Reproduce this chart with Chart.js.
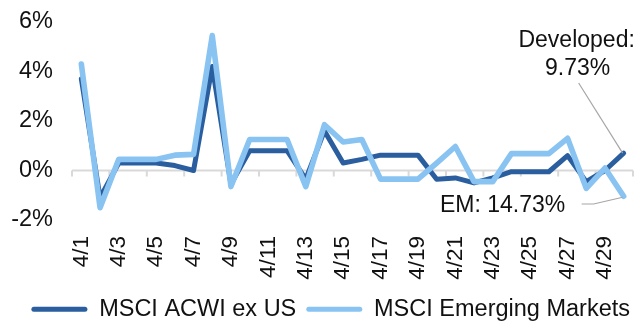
<!DOCTYPE html>
<html>
<head>
<meta charset="utf-8">
<script src="https://cdn.jsdelivr.net/npm/chart.js@4/dist/chart.umd.min.js"></script>
<style>
  html, body { margin: 0; padding: 0; background: #fff; }
  #wrap { width: 640px; height: 328px; }
</style>
</head>
<body>
<div id="wrap"><canvas id="chart" width="640" height="328"></canvas></div>
<script>
// Daily returns in April (%)
const dates = [
  '4/1','4/2','4/3','4/4','4/5','4/6','4/7','4/8','4/9','4/10',
  '4/11','4/12','4/13','4/14','4/15','4/16','4/17','4/18','4/19','4/20',
  '4/21','4/22','4/23','4/24','4/25','4/26','4/27','4/28','4/29','4/30'
];
const acwiExUs = [
  3.7, -1.1, 0.3, 0.3, 0.3, 0.2, 0.0, 4.2, -0.55, 0.8,
  0.8, 0.8, -0.35, 1.6, 0.3, 0.45, 0.62, 0.62, 0.62, -0.35,
  -0.3, -0.5, -0.3, -0.05, -0.05, -0.05, 0.6, -0.45, 0.0, 0.7
];
const emergingMarkets = [
  4.3, -1.5, 0.45, 0.45, 0.45, 0.62, 0.65, 5.45, -0.65, 1.25,
  1.25, 1.25, -0.65, 1.85, 1.15, 1.25, -0.35, -0.35, -0.35, 0.3,
  0.97, -0.45, -0.45, 0.68, 0.68, 0.68, 1.3, -0.72, 0.1, -1.04
];
const seriesNames = ['MSCI ACWI ex US', 'MSCI Emerging Markets'];
const yMin = -2, yMax = 6, yStep = 2;
const developedLabel = ['Developed:', '9.73%'];
const emLabel = 'EM: 14.73%';

const DARK = '#2A5E9F';
const LIGHT = '#88C3F2';
const FONT = '"Liberation Sans", Arial, sans-serif';
const TEXT = '#111';

// Horizontal axis at zero with tick marks every two days
const zeroAxis = {
  id: 'zeroAxis',
  beforeDatasetsDraw(chart) {
    const { ctx, scales: { x, y } } = chart;
    const y0 = y.getPixelForValue(0);
    const half = (x.getPixelForValue(1) - x.getPixelForValue(0)) / 2;
    ctx.save();
    ctx.strokeStyle = '#d9d9d9';
    ctx.lineWidth = 2;
    ctx.beginPath();
    ctx.moveTo(x.getPixelForValue(0) - half, y0);
    ctx.lineTo(x.getPixelForValue(dates.length - 1) + half, y0);
    for (let i = 0; i <= dates.length; i += 2) {
      const px = x.getPixelForValue(0) - half + i * 2 * half;
      ctx.moveTo(px, y0);
      ctx.lineTo(px, y0 + 6);
    }
    ctx.stroke();
    ctx.restore();
  }
};

// Callout labels with leader lines to the last point of each series
const callouts = {
  id: 'callouts',
  afterDatasetsDraw(chart) {
    const { ctx, scales: { x, y } } = chart;
    const last = dates.length - 1;
    const px = x.getPixelForValue(last);
    const pDev = y.getPixelForValue(acwiExUs[last]);
    const pEm = y.getPixelForValue(emergingMarkets[last]);
    ctx.save();
    ctx.strokeStyle = '#a6a6a6';
    ctx.lineWidth = 1.2;
    ctx.beginPath();
    ctx.moveTo(px - 45, 83);
    ctx.lineTo(px - 1, pDev);
    ctx.stroke();
    ctx.beginPath();
    ctx.moveTo(px - 42, 204);
    ctx.lineTo(px - 30, 204);
    ctx.lineTo(px - 1, pEm + 1);
    ctx.stroke();
    ctx.fillStyle = TEXT;
    ctx.font = '23px ' + FONT;
    ctx.textAlign = 'center';
    ctx.textBaseline = 'middle';
    ctx.fillText(developedLabel[0], px - 47, 41);
    ctx.fillText(developedLabel[1], px - 46, 69);
    ctx.fillText(emLabel, px - 121, 206);
    ctx.restore();
  }
};

const hiddenGrid = {
  display: true,
  drawOnChartArea: false,
  drawTicks: true,
  color: 'rgba(0,0,0,0)'
};

const ctx = document.getElementById('chart').getContext('2d');
new Chart(ctx, {
  type: 'line',
  data: {
    labels: dates,
    datasets: [
      {
        label: seriesNames[0],
        data: acwiExUs,
        borderColor: DARK,
        backgroundColor: DARK,
        borderWidth: 5,
        pointRadius: 0,
        tension: 0,
        borderJoinStyle: 'round',
        borderCapStyle: 'round',
        order: 1
      },
      {
        label: seriesNames[1],
        data: emergingMarkets,
        borderColor: LIGHT,
        backgroundColor: LIGHT,
        borderWidth: 5.6,
        pointRadius: 0,
        tension: 0,
        borderJoinStyle: 'round',
        borderCapStyle: 'round',
        order: 0
      }
    ]
  },
  options: {
    responsive: false,
    animation: false,
    devicePixelRatio: 1,
    layout: { padding: { top: 22, right: 0, bottom: -3, left: 0 } },
    scales: {
      x: {
        offset: true,
        grid: { ...hiddenGrid, tickLength: 16 },
        border: { display: false },
        ticks: {
          autoSkip: false,
          maxRotation: 90,
          minRotation: 90,
          padding: 0,
          color: TEXT,
          font: { family: FONT, size: 22.5 },
          callback: (v, i) => (i % 2 === 0 ? dates[i] : null)
        },
        afterFit: (s) => { s.height = 67.5; s.paddingRight = 7; }
      },
      y: {
        min: yMin,
        max: yMax,
        grid: { ...hiddenGrid, tickLength: 19 },
        border: { display: false },
        ticks: {
          stepSize: yStep,
          padding: 0,
          color: TEXT,
          font: { family: FONT, size: 23.5 },
          callback: (v) => v + '%'
        },
        afterFit: (s) => { s.width = 72; }
      }
    },
    plugins: {
      tooltip: { enabled: false },
      legend: {
        position: 'bottom',
        align: 'end',
        labels: {
          boxWidth: 56,
          boxHeight: 5,
          padding: 10,
          color: TEXT,
          font: { family: FONT, size: 23.5 },
          sort: (a, b) => a.datasetIndex - b.datasetIndex,
          generateLabels: (chart) =>
            Chart.defaults.plugins.legend.labels.generateLabels(chart).map((l) => ({
              ...l, lineWidth: 0, borderRadius: 2.5
            }))
        }
      }
    }
  },
  plugins: [zeroAxis, callouts]
});
</script>
</body>
</html>
